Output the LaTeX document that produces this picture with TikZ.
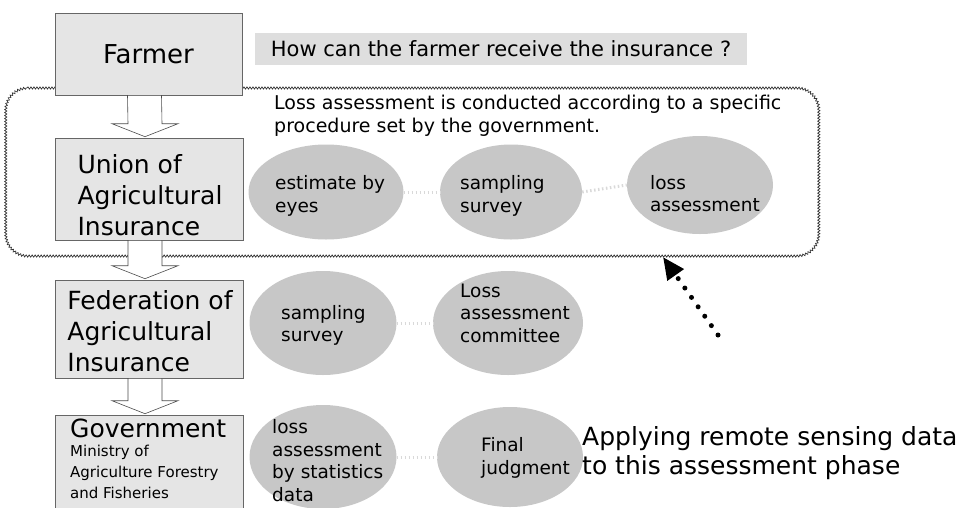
\documentclass[tikz,border=0pt]{standalone}
\usepackage{fontspec}
\setmainfont{DejaVu Sans}
\usetikzlibrary{shapes.geometric,decorations.pathmorphing,arrows.meta,calc}
\newcommand{\blockarrow}[2]{%
  \draw[blockarrow] ($(#1.south)+(-21,0)$) -- ($(#2.north)+(-21,-14)$) -- ($(#2.north)+(-37,-14)$)
    -- ($(#2.north)+(-4,-1)$) -- ($(#2.north)+(29,-14)$) -- ($(#2.north)+(13,-14)$)
    -- ($(#1.south)+(13,0)$) -- cycle;}
\begin{document}
\begin{tikzpicture}[x=1pt,y=-1pt,
  box/.style={draw=black!60, line width=0.6pt, fill=black!10, rectangle, inner sep=0pt},
  boxtext/.style={align=left, inner sep=0pt, font=\fontsize{25}{31}\selectfont},
  oval/.style={ellipse, fill=black!22, inner sep=0pt},
  ovaltext/.style={align=left, inner sep=0pt, anchor=west, font=\fontsize{18.5}{22.5}\selectfont},
  blockarrow/.style={draw=black!70, line width=0.6pt, fill=white},
  faint/.style={draw=black!15, line width=3pt, dash pattern=on 1.5pt off 2.5pt},
  wavybox/.style={draw=black!80, line width=0.7pt, decorate,
    decoration={snake, segment length=3pt, amplitude=1.1pt}},
  dotarrow/.style={line width=5pt, dash pattern=on 0pt off 11.5pt, line cap=round,
    -{Triangle[length=22pt,width=19pt]}}
]
\useasboundingbox (0,0) rectangle (969,507);
\fill[white] (0,0) rectangle (969,507);

% wavy frame of the assessment phase
\draw[wavybox] (27,88) -- (796,88) arc[start angle=-90, end angle=0, radius=22]
  -- (818,234) arc[start angle=0, end angle=90, radius=22]
  -- (27,256) arc[start angle=90, end angle=180, radius=22]
  -- (5,110) arc[start angle=180, end angle=270, radius=22] -- cycle;

% question
\node[fill=black!13, minimum width=492, minimum height=32, inner sep=0pt,
      font=\fontsize{21}{25}\selectfont] (question) at (501,49) {How can the farmer receive the insurance ?};

% left column boxes
\node[box, minimum width=187, minimum height=82, font=\fontsize{26}{30}\selectfont] (farmer) at (148.5,54) {Farmer};
\node[box, minimum width=188, minimum height=102] (union) at (149,189) {};
\node[boxtext] (uniontext) at (150,195) {Union of\\Agricultural\\Insurance};
\node[box, minimum width=188, minimum height=98] (fed) at (149,329) {};
\node[boxtext] (fedtext) at (150,331) {Federation of\\Agricultural\\Insurance};
\node[box, minimum width=188, minimum height=108] (gov) at (149,469) {};
\node[anchor=west, inner sep=0pt, font=\fontsize{25}{30}\selectfont] (govtitle) at (70,428) {Government};
\node[anchor=north west, inner sep=0pt, align=left, font=\fontsize{15}{21}\selectfont] (govsub) at (70,445)
  {Ministry of\\Agriculture Forestry\\and Fisheries};

% block arrows
\blockarrow{farmer}{union}
\blockarrow{union}{fed}
\blockarrow{fed}{gov}

% procedure text
\node[anchor=north west, inner sep=0pt, align=left, font=\fontsize{19}{23}\selectfont] (proc) at (274,95)
  {Loss assessment is conducted according to a specific\\procedure set by the government.};

% ellipses
\node[oval, minimum width=155, minimum height=95] (e11) at (326,192) {};
\node[oval, minimum width=142, minimum height=95] (e12) at (511,192) {};
\node[oval, minimum width=146, minimum height=98] (e13) at (700,185) {};
\node[oval, minimum width=147, minimum height=104] (e21) at (323,323) {};
\node[oval, minimum width=150, minimum height=104] (e22) at (508,323) {};
\node[oval, minimum width=147, minimum height=104] (e31) at (323,457) {};
\node[oval, minimum width=146, minimum height=100] (e32) at (510,457) {};

\draw[faint] (e11.east) -- (e12.west);
\draw[faint] (e12.east) -- (e13.west);
\draw[faint] (e21.east) -- (e22.west);
\draw[faint] (e31.east) -- (e32.west);

\node[ovaltext] (t11) at (275,196) {estimate by\\eyes};
\node[ovaltext] (t12) at (460,196) {sampling\\survey};
\node[ovaltext] (t13) at (650,193.5) {loss\\assessment};
\node[ovaltext] (t21) at (281,325.5) {sampling\\survey};
\node[ovaltext] (t22) at (460,313) {Loss\\assessment\\committee};
\node[ovaltext] (t31) at (272,460.5) {loss\\assessment\\by statistics\\data};
\node[ovaltext] (t32) at (481,458) {Final\\judgment};

% remote sensing note
\node[anchor=north west, inner sep=0pt, align=left, font=\fontsize{25}{29}\selectfont] (rs) at (582,426)
  {Applying remote sensing data\\to this assessment phase};
\coordinate (rsfrom) at (718,335);
\coordinate (rsto) at (663,257);
\draw[dotarrow] (rsfrom) -- (rsto);
\end{tikzpicture}
\end{document}
